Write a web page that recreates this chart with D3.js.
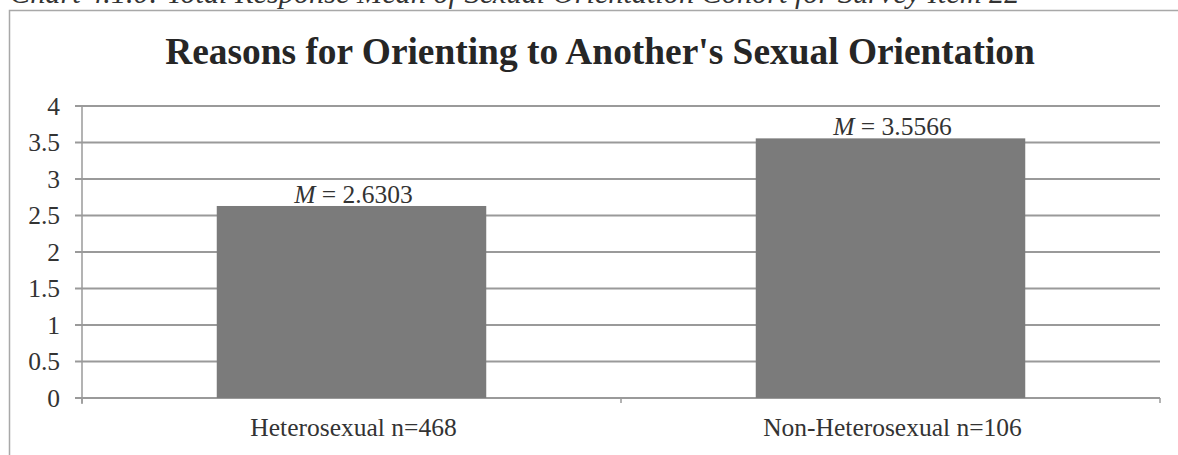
<!DOCTYPE html>
<html><head><meta charset="utf-8">
<script src="https://cdn.jsdelivr.net/npm/d3@7"></script>
<style>body{margin:0;background:#fff}svg{display:block}</style>
</head><body>
<svg id="c" width="1178" height="455"></svg>
<script>
const caption = "Chart 4.1.0: Total Response Mean of Sexual Orientation Cohort for Survey Item 22";
const title = "Reasons for Orienting to Another's Sexual Orientation";
const categories = ["Heterosexual n=468", "Non-Heterosexual n=106"];
const means = [2.6303, 3.5566];
const meanLabels = ["2.6303", "3.5566"];
const yTicks = [0, 0.5, 1, 1.5, 2, 2.5, 3, 3.5, 4];
const yTickLabels = ["0", "0.5", "1", "1.5", "2", "2.5", "3", "3.5", "4"];

const svg = d3.select("#c");
const serif = "'Liberation Serif','Times New Roman',serif";

function fitWidth(sel, w) {
  const fs = +sel.attr("font-size");
  const cur = sel.node().getComputedTextLength();
  sel.attr("font-size", fs * w / cur);
}

// caption (cut off at top, as in the source)
const cap = svg.append("text").attr("x", 10).attr("y", 3)
  .attr("font-family", serif).attr("font-style", "italic").attr("font-size", 26)
  .attr("fill", "#333").text(caption);
fitWidth(cap, 1010);

// chart frame
svg.append("rect").attr("x", 9.5).attr("y", 10.5).attr("width", 1200).attr("height", 460)
  .attr("fill", "#fff").attr("stroke", "#a8a8a8").attr("stroke-width", 1.5);

const t = svg.append("text").attr("x", 600).attr("y", 64).attr("text-anchor", "middle")
  .attr("font-family", serif).attr("font-weight", "bold").attr("font-size", 32)
  .attr("fill", "#262626").text(title);
fitWidth(t, 870);

const x0 = 82, x1 = 1160, yTop = 106, yBot = 398;
const x = d3.scaleBand().domain(categories).range([x0, x1]).paddingInner(0.5).paddingOuter(0.25);
const y = d3.scaleLinear().domain([0, 4]).range([yBot, yTop]);
const fs = 25.5;

// gridlines
svg.append("g").selectAll("line").data(yTicks).join("line")
  .attr("x1", x0 - 7).attr("x2", x1).attr("y1", d => y(d)).attr("y2", d => y(d))
  .attr("stroke", "#9a9a9a").attr("stroke-width", 1.8);

// y axis line
svg.append("line").attr("x1", x0).attr("x2", x0).attr("y1", yTop).attr("y2", yBot + 6)
  .attr("stroke", "#9a9a9a").attr("stroke-width", 1.5);

// y labels
svg.append("g").selectAll("text").data(yTicks).join("text")
  .attr("x", 60).attr("y", d => y(d) + 8.5).attr("text-anchor", "end")
  .attr("font-family", serif).attr("font-size", fs).attr("fill", "#333")
  .text((d, i) => yTickLabels[i]);

// bars
svg.append("g").selectAll("rect").data(categories).join("rect")
  .attr("x", d => x(d)).attr("width", x.bandwidth())
  .attr("y", (d, i) => y(means[i])).attr("height", (d, i) => yBot - y(means[i]))
  .attr("fill", "#7b7b7b");

// x axis ticks
const xb = d3.scaleBand().domain(categories).range([x0, x1]);
const tickXs = [x0, xb(categories[1]), x1];
svg.append("g").selectAll("line").data(tickXs).join("line")
  .attr("x1", d => d).attr("x2", d => d).attr("y1", yBot).attr("y2", yBot + 5)
  .attr("stroke", "#9a9a9a").attr("stroke-width", 1.5);

// x labels
svg.append("g").selectAll("text").data(categories).join("text")
  .attr("x", d => x(d) + x.bandwidth() / 2 + 2).attr("y", 436).attr("text-anchor", "middle")
  .attr("font-family", serif).attr("font-size", fs).attr("fill", "#333").text(d => d);

// value labels
const vl = svg.append("g").selectAll("text").data(categories).join("text")
  .attr("x", d => x(d) + x.bandwidth() / 2 + 2).attr("y", (d, i) => y(means[i]) - 3)
  .attr("text-anchor", "middle").attr("font-family", serif).attr("font-size", fs).attr("fill", "#333");
vl.append("tspan").attr("font-style", "italic").text("M");
vl.append("tspan").text((d, i) => " = " + meanLabels[i]);
</script>
</body></html>
